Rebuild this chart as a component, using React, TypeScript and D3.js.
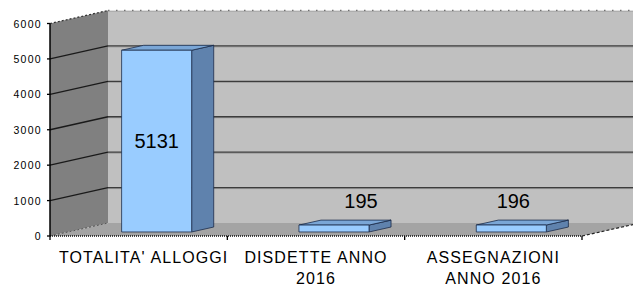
import React, { useRef, useEffect } from 'react'
import * as d3 from 'd3'

const categories = ["TOTALITA' ALLOGGI", 'DISDETTE ANNO 2016', 'ASSEGNAZIONI ANNO 2016']
const categoryLines = [["TOTALITA' ALLOGGI"], ['DISDETTE ANNO', '2016'], ['ASSEGNAZIONI', 'ANNO 2016']]
const values = [5131, 195, 196]
const yTicks = [0, 1000, 2000, 3000, 4000, 5000, 6000]

// horizontal nudges of the value labels, as Excel placed them
const LABEL_SHIFT = [0, 27, 2]

const W = 633
const H = 289

const App: React.FC = () => {
  const svgRef = useRef<SVGSVGElement>(null)

  useEffect(() => {
    const svg = d3.select(svgRef.current!)
    svg.selectAll('*').remove()

    const x0 = 50
    const x1 = 582
    const depth = { dx: 58, dy: -13 }
    const proj = (x: number, y: number, f: number): [number, number] => [
      x + depth.dx * f,
      y + depth.dy * f,
    ]

    const x = d3
      .scaleBand<string>()
      .domain(categories)
      .range([x0, x1])
      .paddingInner(0.605)
      .paddingOuter(0.3025)
    const step = d3.scaleBand<string>().domain(categories).range([x0, x1])
    const y = d3.scaleLinear().domain([0, 6000]).range([236, 23.5])

    const font = "'Liberation Sans', Arial, sans-serif"
    const poly = (pts: [number, number][]) => 'M' + pts.map((p) => p.join(',')).join('L') + 'Z'

    svg.append('rect').attr('width', W).attr('height', H).attr('fill', '#ffffff')

    // back wall
    svg
      .append('path')
      .attr('d', poly([proj(x0, y(6000), 1), proj(x1, y(6000), 1), proj(x1, y(0), 1), proj(x0, y(0), 1)]))
      .attr('fill', '#c0c0c0')
    // side wall
    svg
      .append('path')
      .attr('d', poly([[x0, y(6000)], proj(x0, y(6000), 1), proj(x0, y(0), 1), [x0, y(0)]]))
      .attr('fill', '#808080')
    // floor
    svg
      .append('path')
      .attr('d', poly([[x0, y(0)], proj(x0, y(0), 1), proj(x1, y(0), 1), [x1, y(0)]]))
      .attr('fill', '#a4a4a4')

    // gridlines
    yTicks.slice(1, -1).forEach((v) => {
      const [bx, by] = proj(x0, y(v), 1)
      const [ex, ey] = proj(x1, y(v), 1)
      svg
        .append('line')
        .attr('x1', bx).attr('y1', by + 1).attr('x2', ex).attr('y2', ey + 1)
        .attr('stroke', '#9a9a9a').attr('stroke-width', 1)
      svg
        .append('line')
        .attr('x1', bx).attr('y1', by).attr('x2', ex).attr('y2', ey)
        .attr('stroke', '#3c3c3c').attr('stroke-width', 1.3)
      svg
        .append('line')
        .attr('x1', x0).attr('y1', y(v)).attr('x2', bx).attr('y2', by)
        .attr('stroke', '#1a1a1a').attr('stroke-width', 1.3)
    })

    // top edges (dotted)
    const [tbx, tby] = proj(x0, y(6000), 1)
    const [tex, tey] = proj(x1, y(6000), 1)
    svg
      .append('line')
      .attr('x1', tbx).attr('y1', tby).attr('x2', tex).attr('y2', tey)
      .attr('stroke', '#707070').attr('stroke-width', 1.5)
      .attr('stroke-dasharray', '1.5,6.5')
    svg
      .append('line')
      .attr('x1', tbx).attr('y1', tby + 1).attr('x2', tex).attr('y2', tey + 1)
      .attr('stroke', '#a8a8a8').attr('stroke-width', 0.8)
    svg
      .append('line')
      .attr('x1', x0).attr('y1', y(6000)).attr('x2', tbx).attr('y2', tby)
      .attr('stroke', '#303030').attr('stroke-width', 1.2)
      .attr('stroke-dasharray', '2,2')
    // floor side edges
    const [fbx, fby] = proj(x0, y(0), 1)
    const [fex, fey] = proj(x1, y(0), 1)
    svg
      .append('line')
      .attr('x1', x0).attr('y1', y(0)).attr('x2', fbx).attr('y2', fby)
      .attr('stroke', '#555').attr('stroke-width', 1).attr('stroke-dasharray', '2,2')
    svg
      .append('line')
      .attr('x1', x1).attr('y1', y(0)).attr('x2', fex).attr('y2', fey)
      .attr('stroke', '#222').attr('stroke-width', 1.2).attr('stroke-dasharray', '3,2')

    // bars
    const fFront = 0.31
    const fBack = 0.69
    values.forEach((v, i) => {
      const bx0 = x(categories[i])!
      const bx1 = bx0 + x.bandwidth()
      const yt = y(v)
      const yb = y(0)
      const g = svg.append('g').attr('stroke', '#1c2c4a').attr('stroke-width', 0.8).attr('stroke-linejoin', 'round')
      g.append('path')
        .attr('d', poly([proj(bx1, yt, fFront), proj(bx1, yt, fBack), proj(bx1, yb, fBack), proj(bx1, yb, fFront)]))
        .attr('fill', '#5f82ad')
      g.append('path')
        .attr('d', poly([proj(bx0, yt, fFront), proj(bx0, yt, fBack), proj(bx1, yt, fBack), proj(bx1, yt, fFront)]))
        .attr('fill', '#7aa6d6')
      g.append('path')
        .attr('d', poly([proj(bx0, yt, fFront), proj(bx1, yt, fFront), proj(bx1, yb, fFront), proj(bx0, yb, fFront)]))
        .attr('fill', '#99ccff')

      const [cx, cyTop] = proj((bx0 + bx1) / 2, yt, fFront)
      const [, cyBot] = proj(0, yb, fFront)
      const big = cyBot - cyTop > 60
      svg
        .append('text')
        .attr('x', cx + LABEL_SHIFT[i])
        .attr('y', big ? (cyTop + cyBot) / 2 : cyTop - 24)
        .attr('text-anchor', 'middle')
        .attr('dominant-baseline', 'central')
        .style('font-family', font)
        .style('font-size', '20px')
        .attr('fill', '#000')
        .text(v)
    })

    // front floor edge + x ticks
    svg
      .append('line')
      .attr('x1', x0).attr('y1', y(0)).attr('x2', x1).attr('y2', y(0))
      .attr('stroke', '#111').attr('stroke-width', 1.3).attr('stroke-dasharray', '1,1')
    const bounds = [x0, ...categories.map((c) => step(c)! + step.bandwidth())]
    bounds.forEach((bx) => {
      svg
        .append('line')
        .attr('x1', bx).attr('y1', y(0)).attr('x2', bx).attr('y2', y(0) + 4)
        .attr('stroke', '#000').attr('stroke-width', 1.3)
    })

    // y axis
    svg
      .append('line')
      .attr('x1', x0).attr('y1', y(6000)).attr('x2', x0).attr('y2', y(0))
      .attr('stroke', '#000').attr('stroke-width', 1.5)
    yTicks.forEach((v) => {
      svg
        .append('line')
        .attr('x1', x0 - 3).attr('y1', y(v)).attr('x2', x0).attr('y2', y(v))
        .attr('stroke', '#000').attr('stroke-width', 1.3)
      svg
        .append('text')
        .attr('x', 42)
        .attr('y', y(v))
        .attr('text-anchor', 'end')
        .attr('dominant-baseline', 'central')
        .style('font-family', font)
        .style('font-size', '10.5px')
        .style('letter-spacing', '1.3px')
        .attr('fill', '#000')
        .text(v)
    })

    // category labels
    categories.forEach((c, i) => {
      const cx = step(c)! + step.bandwidth() / 2 + (i === 0 ? 5 : 0)
      categoryLines[i].forEach((line, j) => {
        svg
          .append('text')
          .attr('x', cx)
          .attr('y', 257 + j * 21)
          .attr('text-anchor', 'middle')
          .attr('dominant-baseline', 'central')
          .style('font-family', font)
          .style('font-size', '16px')
          .style('letter-spacing', '1.1px')
          .attr('fill', '#000')
          .text(line)
      })
    })
  }, [])

  return (
    <svg
      ref={svgRef}
      width={W}
      height={H}
      style={{ position: 'fixed', left: 0, top: 0, display: 'block' }}
    />
  )
}

export default App
